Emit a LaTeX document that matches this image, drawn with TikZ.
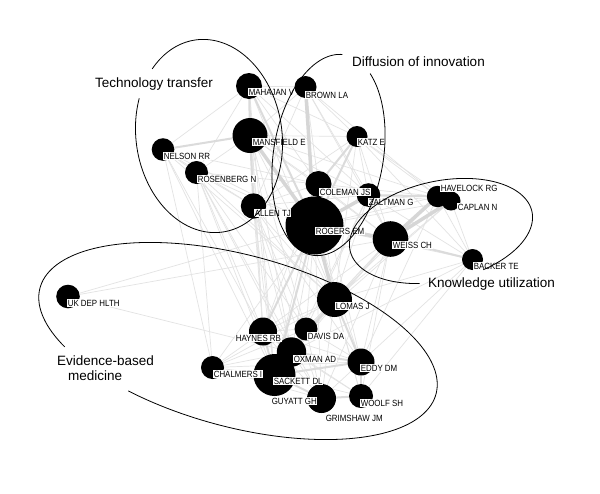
\documentclass[tikz,border=0pt]{standalone}
\usepackage{fontspec}
\setmainfont{Liberation Sans}
\newfontfamily\lblfont{Liberation Sans}[FakeStretch=0.88]
\usetikzlibrary{backgrounds}
\newcommand\hullellipse[7]{\draw[hull] plot[domain=#6:#7, samples=160, variable=\t] ({#1 + #3*cos(\t)*cos(#5) - #4*sin(\t)*sin(#5)}, {#2 + #3*cos(\t)*sin(#5) + #4*sin(\t)*cos(#5)});}
\begin{document}
\begin{tikzpicture}[x=1pt,y=-1pt,
  dot/.style={circle, fill=black, draw=none, inner sep=0pt},
  lbl/.style={fill=white, inner xsep=0.6pt, inner ysep=0.8pt, anchor=west, font=\lblfont\fontsize{9}{10}\selectfont, text height=6.5pt, text depth=0pt},
  ttl/.style={anchor=base west, inner sep=0pt, font=\fontsize{13.5}{15}\selectfont},
  hull/.style={draw=black, line width=0.8pt},
  ethin/.style={draw=black!11, line width=0.7pt},
  emid/.style={draw=black!14, line width=2pt},
  ethick/.style={draw=black!16, line width=3.5pt}]
\useasboundingbox (0,0) rectangle (600,493);
% nodes (circles)
\node[dot, minimum size=26pt] (mah) at (249,86) {};
\node[dot, minimum size=22pt] (bro) at (305.5,87) {};
\node[dot, minimum size=35pt] (man) at (250,135.5) {};
\node[dot, minimum size=22.6pt] (nel) at (163,149.5) {};
\node[dot, minimum size=23pt] (ros) at (196.5,172.5) {};
\node[dot, minimum size=25.4pt] (all) at (253.5,206) {};
\node[dot, minimum size=21pt] (kat) at (357,136.5) {};
\node[dot, minimum size=26pt] (col) at (318.5,184) {};
\node[dot, minimum size=58pt] (rog) at (314.5,225.5) {};
\node[dot, minimum size=23.6pt] (zal) at (368.5,195) {};
\node[dot, minimum size=21.4pt] (hav) at (437.5,196.5) {};
\node[dot, minimum size=19pt] (cap) at (451,201) {};
\node[dot, minimum size=35.6pt] (wei) at (390.5,239) {};
\node[dot, minimum size=21pt] (bac) at (472.5,259.5) {};
\node[dot, minimum size=23.6pt] (uk) at (68,296.5) {};
\node[dot, minimum size=35pt] (lom) at (334.5,299.5) {};
\node[dot, minimum size=28pt] (hay) at (263,331.5) {};
\node[dot, minimum size=23pt] (dav) at (306,329) {};
\node[dot, minimum size=29.4pt] (oxm) at (291.5,352) {};
\node[dot, minimum size=23pt] (cha) at (212.5,367.5) {};
\node[dot, minimum size=42pt] (sac) at (274.5,375) {};
\node[dot, minimum size=27pt] (edd) at (361,362) {};
\node[dot, minimum size=29pt] (gri) at (321.5,398.5) {};
\node[dot, minimum size=24pt] (woo) at (361,396) {};
% labels
\node[lbl] (Lmah) at (248,92) {MAHAJAN V};
\node[lbl] (Lbro) at (305,95) {BROWN LA};
\node[lbl] (Lman) at (252,142) {MANSFIELD E};
\node[lbl] (Lnel) at (163,156) {NELSON RR};
\node[lbl] (Lros) at (197,179) {ROSENBERG N};
\node[lbl] (Lkat) at (357,142) {KATZ E};
\node[lbl] (Lcol) at (319,192) {COLEMAN JS};
\node[lbl] (Lall) at (254,213) {ALLEN TJ};
\node[lbl] (Lrog) at (315,231) {ROGERS EM};
\node[lbl] (Lzal) at (368,202) {ZALTMAN G};
\node[lbl] (Lhav) at (440,188) {HAVELOCK RG};
\node[lbl] (Lcap) at (457,207) {CAPLAN N};
\node[lbl] (Lwei) at (392,245) {WEISS CH};
\node[lbl] (Lbac) at (473,266) {BACKER TE};
\node[lbl] (Luk) at (67,303) {UK DEP HLTH};
\node[lbl] (Llom) at (335,306) {LOMAS J};
\node[lbl] (Lhay) at (235,338) {HAYNES RB};
\node[lbl] (Ldav) at (307,336) {DAVIS DA};
\node[lbl] (Loxm) at (293,359) {OXMAN AD};
\node[lbl] (Lcha) at (213,374) {CHALMERS I};
\node[lbl] (Lsac) at (273,381) {SACKETT DL};
\node[lbl] (Ledd) at (360,368) {EDDY DM};
\node[lbl] (Lguy) at (271,401) {GUYATT GH};
\node[lbl] (Lwoo) at (360,403) {WOOLF SH};
\node[lbl] (Lgri) at (325,418) {GRIMSHAW JM};
% edges
\begin{pgfonlayer}{background}
\fill[white] (0,0) rectangle (600,493);
\foreach \a/\b in {mah/nel, mah/ros, mah/all, mah/bro, mah/kat, mah/col, mah/zal, mah/lom, mah/hay, mah/sac,
  bro/man, bro/kat, bro/col, bro/zal, bro/all, bro/wei, bro/hav,
  man/ros, man/kat, man/col, man/zal, man/wei, man/lom, man/hay, man/sac, man/oxm, man/dav, man/hav,
  nel/ros, nel/all, nel/rog, nel/col, nel/hay, nel/sac, nel/cha, nel/lom,
  ros/all, ros/rog, ros/col, ros/hay, ros/sac, ros/cha, ros/lom, ros/oxm, ros/dav, ros/gri,
  all/col, all/zal, all/kat, all/hay, all/sac, all/lom, all/dav, all/oxm, all/gri, all/edd, all/wei,
  kat/zal, kat/hav, kat/cap, kat/wei, kat/bac, kat/lom,
  col/zal, col/wei, col/hav, col/lom, col/hay, col/sac, col/edd,
  zal/wei, zal/cap, zal/bac, zal/lom, zal/dav, zal/oxm,
  rog/hav, rog/cap, rog/bac, rog/uk, rog/dav, rog/oxm, rog/edd, rog/gri, rog/woo, rog/cha,
  hav/bac, hav/lom, hav/edd, cap/bac, cap/lom, cap/dav,
  wei/lom, wei/dav, wei/oxm, wei/edd, wei/hay, wei/sac, wei/gri, wei/woo, wei/uk,
  bac/lom, bac/edd, bac/woo, bac/oxm, uk/oxm,
  lom/hay, lom/dav, lom/sac, lom/gri, lom/woo, lom/cha,
  hay/dav, hay/cha, hay/edd, hay/gri, hay/woo,
  dav/oxm, dav/sac, dav/edd, dav/gri, dav/cha,
  oxm/gri, oxm/woo, oxm/cha, sac/cha, sac/woo, edd/gri, cha/gri, cha/edd}
  \draw[ethin] (\a) -- (\b);
\foreach \a/\b in {rog/kat, man/mah, man/nel, man/all, rog/all, rog/mah, wei/bac, hav/cap, rog/hay, rog/sac,
  sac/oxm, sac/hay, oxm/edd, sac/gri, edd/woo, gri/woo, lom/oxm, hav/zal, lom/edd, oxm/hay, sac/edd, kat/col}
  \draw[emid] (\a) -- (\b);
\foreach \a/\b in {rog/bro, rog/man, rog/col, rog/zal, rog/wei, wei/hav, wei/cap, rog/lom}
  \draw[ethick] (\a) -- (\b);
\end{pgfonlayer}
% group hulls
\hullellipse{209}{136}{73}{97}{-8}{230}{569}
\hullellipse{328.5}{155}{55}{101.5}{9}{301}{628}
\hullellipse{441}{231}{93}{50}{-12}{110}{429}
\hullellipse{238}{341}{205}{86}{15}{144}{477}
% titles
\node[ttl] (ttech) at (95,87) {Technology transfer};
\node[ttl] (tdiff) at (352,66) {Diffusion of innovation};
\node[ttl] (tknow) at (428,287.5) {Knowledge utilization};
\node[ttl] (tebm) at (57,365) {Evidence-based};
\node[ttl] (tebm2) at (68,380.5) {medicine};
\end{tikzpicture}
\end{document}
